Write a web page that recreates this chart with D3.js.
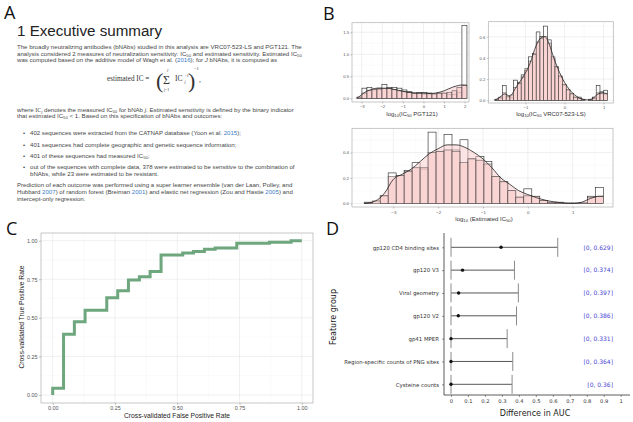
<!DOCTYPE html>
<head>
<meta charset="utf-8">
<style>
  body { margin: 0; background: #fff; }
  svg { font-family: "Liberation Sans", Arial, sans-serif; }
  .para { font-size: 6.1px; fill: #464646; }
  .plabel { font-family: "Open Sans", sans-serif; font-size: 18px; fill: #111; }
</style>
</head>
<body>
<svg width="633" height="422"></svg>
<script src="https://d3js.org/d3.v7.min.js"></script>
<script>
// ---------------- data ----------------
// B, left: log10(IC50 PGT121), 22 bins, density scale
const pgtBinStart = -3.23, pgtBinWidth = 0.2427;
const pgtObserved = [0.02, 0.23, 0.25, 0.19, 0.23, 0.31, 0.25, 0.25, 0.23, 0.19, 0.15,
                     0.12, 0.13, 0.13, 0.12, 0.10, 0.12, 0.11, 0.08, 0.09, 0.13, 1.65];
const pgtSmoothed = [0.03, 0.12, 0.17, 0.20, 0.21, 0.22, 0.22, 0.20, 0.17, 0.15, 0.13,
                     0.11, 0.11, 0.10, 0.10, 0.10, 0.11, 0.12, 0.13, 0.17, 0.24, 0.30];
const pgtDensX = [-3.23, -3.0, -2.8, -2.6, -2.4, -2.2, -2.0, -1.8, -1.6, -1.4, -1.2, -1.0, -0.8, -0.6,
                  -0.4, -0.2, 0, 0.2, 0.4, 0.6, 0.8, 1.0, 1.2, 1.4, 1.6, 1.8, 2.0, 2.11];
const pgtDensY = [0.0, 0.08, 0.15, 0.19, 0.22, 0.23, 0.23, 0.23, 0.22, 0.20, 0.18, 0.16, 0.14, 0.13,
                  0.12, 0.12, 0.12, 0.11, 0.11, 0.12, 0.14, 0.17, 0.21, 0.25, 0.28, 0.30, 0.30, 0.29];

// B, right: log10(IC50 VRC07-523-LS), 30 bins
const vrcBinStart = -1.78, vrcBinWidth = 0.096;
const vrcObserved = [0.01, 0.015, 0.14, 0.03, 0.025, 0.19, 0.17, 0.24, 0.28, 0.41, 0.44, 0.645, 0.60, 0.70, 0.57,
                     0.39, 0.31, 0.22, 0.14, 0.095, 0.063, 0.03, 0.03, 0.01, 0.0, 0.01, 0.03, 0.14, 0.08, 0.095];
const vrcSmoothed = [0.01, 0.03, 0.07, 0.04, 0.05, 0.12, 0.16, 0.22, 0.30, 0.37, 0.43, 0.55, 0.58, 0.60, 0.54,
                     0.41, 0.32, 0.23, 0.15, 0.10, 0.06, 0.03, 0.02, 0.01, 0.0, 0.01, 0.02, 0.07, 0.07, 0.06];
const vrcDensX = [-1.78, -1.65, -1.53, -1.4, -1.23, -1.06, -0.89, -0.72, -0.6, -0.5, -0.38, -0.3, -0.17,
                  0.0, 0.13, 0.3, 0.47, 0.6, 0.73, 0.86, 0.99, 1.1];
const vrcDensY = [0.0, 0.03, 0.06, 0.04, 0.13, 0.22, 0.34, 0.52, 0.59, 0.60, 0.52, 0.43, 0.30,
                  0.17, 0.10, 0.04, 0.01, 0.003, 0.02, 0.06, 0.07, 0.06];

// B, bottom: log10(estimated IC50), 30 bins
const estBinStart = -3.65, estBinWidth = 0.178;
const estObserved = [0.01, 0.0, 0.06, 0.24, 0.22, 0.26, 0.32, 0.27, 0.56, 0.41, 0.54, 0.42, 0.50, 0.35, 0.37,
                     0.33, 0.21, 0.17, 0.10, 0.05, 0.115, 0.057, 0.023, 0.01, 0.01, 0.003, 0.003, 0.005, 0.057, 0.127];
const estSmoothed = [0.01, 0.02, 0.06, 0.21, 0.22, 0.25, 0.28, 0.28, 0.40, 0.41, 0.42, 0.41, 0.32, 0.35, 0.34,
                     0.31, 0.21, 0.17, 0.10, 0.05, 0.06, 0.057, 0.023, 0.01, 0.01, 0.003, 0.003, 0.003, 0.05, 0.057];
const estDensX = [-3.65, -3.4, -3.2, -3.0, -2.8, -2.6, -2.4, -2.2, -2.0, -1.8, -1.6, -1.4, -1.2, -1.0,
                  -0.8, -0.6, -0.4, -0.2, 0, 0.2, 0.4, 0.6, 0.8, 1.0, 1.2, 1.4, 1.6, 1.69];
const estDensY = [0.0, 0.02, 0.08, 0.19, 0.23, 0.27, 0.33, 0.39, 0.43, 0.46, 0.46, 0.44, 0.40, 0.35,
                  0.28, 0.20, 0.15, 0.10, 0.07, 0.045, 0.025, 0.012, 0.004, 0.001, 0.01, 0.04, 0.057, 0.057];

// C: cross-validated ROC curve (step corners)
const rocFpr = [0, 0, 0.0435, 0.087, 0.130, 0.217, 0.261, 0.304, 0.348, 0.391, 0.435,
                0.522, 0.565, 0.609, 0.652, 0.739, 0.870, 0.957, 1.0];
const rocTpr = [0, 0.043, 0.393, 0.475, 0.55, 0.63, 0.675, 0.745, 0.767, 0.80, 0.907,
                0.92, 0.93, 0.944, 0.953, 0.983, 0.99, 1.0, 1.0];

// D: variable importance, difference in AUC
const featureGroups = ["gp120 CD4 binding sites", "gp120 V3", "Viral geometry", "gp120 V2",
                       "gp41 MPER", "Region-specific counts of PNG sites", "Cysteine counts"];
const aucEstimate = [0.295, 0.068, 0.045, 0.043, 0, 0, 0];
const aucLower = [0, 0, 0, 0, 0, 0, 0];
const aucUpper = [0.629, 0.374, 0.397, 0.386, 0.331, 0.364, 0.36];

// A: report text
const introLines = [
  [["The broadly neutralizing antibodies (bNAbs) studied in this analysis are VRC07-523-LS and PGT121. The"]],
  [["analysis considered 2 measures of neutralization sensitivity: IC"], ["50", "sub"], [" and estimated sensitivity. Estimated IC"], ["50", "sub"]],
  [["was computed based on the additive model of Wagh et al. ("], ["2016", "cite"], ["); for "], ["J", "it"], [" bNAbs, it is computed as"]]
];
const whereLines = [
  [["where "], ["IC", "serif"], ["j", "subit"], [" denotes the measured IC"], ["50", "sub"], [" for bNAb "], ["j", "it"], [". Estimated sensitivity is defined by the binary indicator"]],
  [["that estimated IC"], ["50", "sub"], [" < 1. Based on this specification of bNAbs and outcomes:"]]
];
const bulletLines = [
  [["402 sequences were extracted from the CATNAP database (Yoon et al. "], ["2015", "cite"], [");"]],
  [["401 sequences had complete geographic and genetic sequence information;"]],
  [["401 of these sequences had measured IC"], ["50", "sub"], [";"]],
  [["out of the sequences with complete data, 378 were estimated to be sensitive to the combination of"]],
  [["bNAbs, while 23 were estimated to be resistant."]]
];
const closingLines = [
  [["Prediction of each outcome was performed using a super learner ensemble (van der Laan, Polley, and"]],
  [["Hubbard "], ["2007", "cite"], [") of random forest (Breiman "], ["2001", "cite"], [") and elastic net regression (Zou and Hastie "], ["2005", "cite"], [") and"]],
  [["intercept-only regression."]]
];

// ---------------- drawing ----------------
var svg = d3.select("svg");
svg.append("rect").attr("width", 633).attr("height", 422).attr("fill", "#fff");

function writeLine(g, parts, x, y) {
  var t = g.append("text").attr("class", "para").attr("x", x).attr("y", y);
  var shift = 0;
  parts.forEach(function(p) {
    var kind = p[1] || "";
    var s = t.append("tspan").text(p[0]);
    var isSub = kind === "sub" || kind === "subit";
    var target = isSub ? 1.3 : 0;
    if (target !== shift) { s.attr("dy", target - shift); shift = target; }
    if (isSub) s.attr("font-size", "4.3px");
    if (kind === "cite") s.attr("fill", "#3d7ec6");
    if (kind === "it" || kind === "subit") s.attr("font-style", "italic");
    if (kind === "serif") s.attr("font-family", "Liberation Serif");
  });
}

// ---- panel A ----
var gA = svg.append("g");
gA.append("text").attr("class", "plabel").attr("x", 4).attr("y", 18.5).text("A");
gA.append("text").attr("x", 17).attr("y", 35.5).attr("font-size", 15.5).attr("fill", "#222")
  .attr("textLength", 145).attr("lengthAdjust", "spacingAndGlyphs").text("1 Executive summary");

[49, 55.5, 62].forEach(function(y, i) { writeLine(gA, introLines[i], 17, y); });

// formula
var f = gA.append("g").attr("font-family", "'Liberation Serif', serif").attr("fill", "#333");
f.append("text").attr("x", 107).attr("y", 81).attr("font-size", 7.2).text("estimated IC =");
f.append("text").attr("x", 156).attr("y", 87.5).attr("font-size", 22).text("(");
f.append("text").attr("x", 163).attr("y", 84).attr("font-size", 12).text("\u03a3");
f.append("text").attr("x", 166.5).attr("y", 71.5).attr("font-size", 4).attr("font-style", "italic").text("J");
f.append("text").attr("x", 164).attr("y", 90.5).attr("font-size", 4).text("j=1");
f.append("text").attr("x", 175).attr("y", 81).attr("font-size", 7.5).text("IC");
f.append("text").attr("x", 184.5).attr("y", 83).attr("font-size", 4).attr("font-style", "italic").text("j");
f.append("text").attr("x", 184.5).attr("y", 76.5).attr("font-size", 4).text("\u22121");
f.append("text").attr("x", 188).attr("y", 87.5).attr("font-size", 22).text(")");
f.append("text").attr("x", 194).attr("y", 70).attr("font-size", 4.5).text("\u22121");
f.append("text").attr("x", 199).attr("y", 82).attr("font-size", 7.5).text(",");

[111.5, 118].forEach(function(y, i) { writeLine(gA, whereLines[i], 17, y); });

var bulletRows = [[135, true], [146.5, true], [157.5, true], [169, true], [175.5, false]];
bulletLines.forEach(function(l, i) {
  if (bulletRows[i][1]) gA.append("text").attr("class", "para").attr("x", 23).attr("y", bulletRows[i][0]).text("\u2022");
  writeLine(gA, l, 30, bulletRows[i][0]);
});

[187, 193.5, 201].forEach(function(y, i) { writeLine(gA, closingLines[i], 17, y); });

// ---- ggplot-like helpers ----
function ggGrid(g, x, y, xMajor, xMinor, yMajor, yMinor) {
  var xr = x.range(), yr = y.range();
  g.append("rect").attr("x", xr[0]).attr("y", yr[1]).attr("width", xr[1] - xr[0])
    .attr("height", yr[0] - yr[1]).attr("fill", "#fff");
  g.selectAll(null).data(xMinor).join("line")
    .attr("x1", d => x(d)).attr("x2", d => x(d)).attr("y1", yr[0]).attr("y2", yr[1])
    .attr("stroke", "#f3f3f3").attr("stroke-width", 0.4);
  g.selectAll(null).data(yMinor).join("line")
    .attr("y1", d => y(d)).attr("y2", d => y(d)).attr("x1", xr[0]).attr("x2", xr[1])
    .attr("stroke", "#f3f3f3").attr("stroke-width", 0.4);
  g.selectAll(null).data(xMajor).join("line")
    .attr("x1", d => x(d)).attr("x2", d => x(d)).attr("y1", yr[0]).attr("y2", yr[1])
    .attr("stroke", "#e6e6e6").attr("stroke-width", 0.6);
  g.selectAll(null).data(yMajor).join("line")
    .attr("y1", d => y(d)).attr("y2", d => y(d)).attr("x1", xr[0]).attr("x2", xr[1])
    .attr("stroke", "#e6e6e6").attr("stroke-width", 0.6);
}
function ggBorder(g, x, y) {
  var xr = x.range(), yr = y.range();
  g.append("rect").attr("x", xr[0]).attr("y", yr[1]).attr("width", xr[1] - xr[0])
    .attr("height", yr[0] - yr[1]).attr("fill", "none").attr("stroke", "#b0b0b0").attr("stroke-width", 0.7);
}
function ggAxis(sel, size) {
  sel.attr("font-size", size).attr("font-family", "'Liberation Sans', Arial, sans-serif");
  sel.select(".domain").remove();
  sel.selectAll(".tick line").attr("stroke", "#888").attr("stroke-width", 0.5);
  sel.selectAll(".tick text").attr("fill", "#555");
}
function subTitle(g, cx, cy, parts, size) {
  var t = g.append("text").attr("x", cx).attr("y", cy).attr("text-anchor", "middle")
    .attr("font-size", size).attr("fill", "#333");
  var shift = 0;
  parts.forEach(function(p) {
    var s = t.append("tspan").text(p[0]);
    var target = p[1] ? 1.4 : 0;
    if (target !== shift) { s.attr("dy", target - shift); shift = target; }
    if (p[1]) s.attr("font-size", size * 0.7);
  });
}

function drawHist(cfg) {
  var g = svg.append("g");
  var x = d3.scaleLinear().domain(cfg.xDomain).range(cfg.xRange);
  var y = d3.scaleLinear().domain(cfg.yDomain).range(cfg.yRange);
  ggGrid(g, x, y, cfg.xMajor, cfg.xMinor, cfg.yMajor, cfg.yMinor);
  var bw = x(cfg.width) - x(0);
  g.selectAll(null).data(cfg.observed).join("rect")
    .attr("x", (d, i) => x(cfg.start + i * cfg.width)).attr("width", bw)
    .attr("y", d => y(d)).attr("height", d => y(0) - y(d))
    .attr("fill", "#fff").attr("stroke", "#222").attr("stroke-width", 0.6);
  var pts = d3.zip(cfg.densX, cfg.densY);
  g.append("path").datum(pts)
    .attr("d", d3.area().x(d => x(d[0])).y0(y(0)).y1(d => y(d[1])).curve(d3.curveMonotoneX))
    .attr("fill", "#f9c9c9").attr("fill-opacity", 0.5);
  g.selectAll(null).data(cfg.smoothed).join("rect")
    .attr("x", (d, i) => x(cfg.start + i * cfg.width)).attr("width", bw)
    .attr("y", d => y(d)).attr("height", d => y(0) - y(d))
    .attr("fill", "#f7c4c4").attr("fill-opacity", 0.55).attr("stroke", "#444").attr("stroke-width", 0.5);
  g.append("path").datum(pts)
    .attr("d", d3.line().x(d => x(d[0])).y(d => y(d[1])).curve(d3.curveMonotoneX))
    .attr("fill", "none").attr("stroke", "#222").attr("stroke-width", 0.8);
  ggBorder(g, x, y);
  g.append("g").attr("transform", "translate(0," + cfg.yRange[0] + ")")
    .call(d3.axisBottom(x).tickValues(cfg.xMajor).tickSize(1.5).tickPadding(cfg.xPad).tickFormat(d3.format("d")))
    .call(s => ggAxis(s, cfg.tickFont));
  g.append("g").attr("transform", "translate(" + cfg.xRange[0] + ",0)")
    .call(d3.axisLeft(y).tickValues(cfg.yMajor).tickSize(1.5).tickPadding(1.5).tickFormat(d3.format(".1f")))
    .call(s => ggAxis(s, cfg.tickFont));
  subTitle(g, cfg.titleX, cfg.titleY, cfg.title, 6);
}

// ---- panel B ----
svg.append("text").attr("class", "plabel").attr("x", 323).attr("y", 19.5).text("B");

drawHist({
  xDomain: [-3.47, 2.21], xRange: [352, 469], yDomain: [-0.084, 1.718], yRange: [102, 22.7],
  xMajor: [-3, -2, -1, 0, 1, 2], xMinor: [-2.5, -1.5, -0.5, 0.5, 1.5],
  yMajor: [0, 0.5, 1, 1.5], yMinor: [0.25, 0.75, 1.25],
  start: pgtBinStart, width: pgtBinWidth, observed: pgtObserved, smoothed: pgtSmoothed,
  densX: pgtDensX, densY: pgtDensY, tickFont: 4.2, xPad: 1.2,
  title: [["log"], ["10", 1], ["(IC"], ["50", 1], [" PGT121)"]], titleX: 412, titleY: 115.5
});
drawHist({
  xDomain: [-1.949, 1.249], xRange: [488.3, 613.3], yDomain: [-0.0255, 0.7415], yRange: [103, 21.7],
  xMajor: [-1, 0, 1], xMinor: [-1.5, -0.5, 0.5],
  yMajor: [0, 0.2, 0.4, 0.6], yMinor: [0.1, 0.3, 0.5, 0.7],
  start: vrcBinStart, width: vrcBinWidth, observed: vrcObserved, smoothed: vrcSmoothed,
  densX: vrcDensX, densY: vrcDensY, tickFont: 4.2, xPad: 1.2,
  title: [["log"], ["10", 1], ["(IC"], ["50", 1], [" VRC07-523-LS)"]], titleX: 551, titleY: 116
});
drawHist({
  xDomain: [-3.923, 1.9], xRange: [352, 613], yDomain: [-0.0275, 0.59], yRange: [207, 128.3],
  xMajor: [-3, -2, -1, 0, 1], xMinor: [-3.5, -2.5, -1.5, -0.5, 0.5, 1.5],
  yMajor: [0, 0.2, 0.4], yMinor: [0.1, 0.3, 0.5],
  start: estBinStart, width: estBinWidth, observed: estObserved, smoothed: estSmoothed,
  densX: estDensX, densY: estDensY, tickFont: 4.4, xPad: 2,
  title: [["log"], ["10", 1], [" (Estimated IC"], ["50", 1], [")"]], titleX: 484, titleY: 221
});

// ---- panel C ----
var gC = svg.append("g");
gC.append("text").attr("class", "plabel").attr("x", 6).attr("y", 235).text("C");
var xC = d3.scaleLinear().domain([-0.047, 1.045]).range([41, 313]);
var yC = d3.scaleLinear().domain([-0.052, 1.05]).range([403, 233]);
ggGrid(gC, xC, yC, [0, 0.25, 0.5, 0.75, 1], [0.125, 0.375, 0.625, 0.875],
       [0, 0.25, 0.5, 0.75, 1], [0.125, 0.375, 0.625, 0.875]);
gC.append("path").datum(d3.zip(rocFpr, rocTpr))
  .attr("d", d3.line().x(d => xC(d[0])).y(d => yC(d[1])).curve(d3.curveStepAfter))
  .attr("fill", "none").attr("stroke", "#6ea67e").attr("stroke-width", 3);
ggBorder(gC, xC, yC);
gC.append("g").attr("transform", "translate(0,403)")
  .call(d3.axisBottom(xC).tickValues([0, 0.25, 0.5, 0.75, 1]).tickSize(2).tickPadding(1.5).tickFormat(d3.format(".2f")))
  .call(s => ggAxis(s, 5.4));
gC.append("g").attr("transform", "translate(41,0)")
  .call(d3.axisLeft(yC).tickValues([0, 0.25, 0.5, 0.75, 1]).tickSize(2).tickPadding(1.5).tickFormat(d3.format(".2f")))
  .call(s => ggAxis(s, 5.4));
gC.append("text").attr("x", 177).attr("y", 418).attr("text-anchor", "middle")
  .attr("font-size", 6.7).attr("fill", "#222").text("Cross-validated False Positive Rate");
gC.append("text").attr("transform", "translate(24,317) rotate(-90)").attr("text-anchor", "middle")
  .attr("font-size", 6.7).attr("fill", "#222").text("Cross-validated True Positive Rate");

// ---- panel D ----
svg.append("text").attr("class", "plabel").attr("x", 326).attr("y", 235).text("D");
var gD = svg.append("g").attr("font-family", "'DejaVu Sans', sans-serif");
var xD = d3.scaleLinear().domain([0, 1]).range([451, 620.7]);
var yD = d3.scalePoint().domain(featureGroups).range([247.3, 384.3]);

var rows = featureGroups.map((g, i) => ({ g: g, est: aucEstimate[i], lo: aucLower[i], hi: aucUpper[i] }));
var row = gD.selectAll(null).data(rows).join("g");
row.append("line").attr("x1", d => xD(d.lo)).attr("x2", d => xD(d.hi))
  .attr("y1", d => yD(d.g)).attr("y2", d => yD(d.g)).attr("stroke", "#444").attr("stroke-width", 0.9);
row.append("line").attr("x1", d => xD(d.lo)).attr("x2", d => xD(d.lo))
  .attr("y1", d => yD(d.g) - 9.5).attr("y2", d => yD(d.g) + 9.5).attr("stroke", "#8a8a8a").attr("stroke-width", 1);
row.append("line").attr("x1", d => xD(d.hi)).attr("x2", d => xD(d.hi))
  .attr("y1", d => yD(d.g) - 9.5).attr("y2", d => yD(d.g) + 9.5).attr("stroke", "#8a8a8a").attr("stroke-width", 1);
row.append("circle").attr("cx", d => xD(d.est)).attr("cy", d => yD(d.g)).attr("r", 1.7).attr("fill", "#111");
row.append("text").attr("x", 613).attr("y", d => yD(d.g) + 2.2).attr("text-anchor", "end")
  .attr("font-size", 6).attr("fill", "#4646d2").text(d => "[" + d.lo + ", " + d.hi + "]");

gD.append("line").attr("x1", 444).attr("x2", 444).attr("y1", 233).attr("y2", 395).attr("stroke", "#333").attr("stroke-width", 0.8);
gD.append("line").attr("x1", 444).attr("x2", 630).attr("y1", 395).attr("y2", 395).attr("stroke", "#333").attr("stroke-width", 0.8);
gD.append("g").attr("transform", "translate(0,395)")
  .call(d3.axisBottom(xD).ticks(10).tickSize(2).tickPadding(2).tickFormat(d => String(+d.toFixed(1))))
  .call(s => { s.attr("font-size", 5.2).attr("font-family", "'DejaVu Sans', sans-serif"); s.select(".domain").remove();
    s.selectAll(".tick line").attr("stroke", "#333").attr("stroke-width", 0.5); s.selectAll(".tick text").attr("fill", "#333"); });
gD.append("g").attr("transform", "translate(444,0)")
  .call(d3.axisLeft(yD).tickSize(2).tickPadding(3))
  .call(s => { s.attr("font-size", 5.4).attr("font-family", "'DejaVu Sans', sans-serif"); s.select(".domain").remove();
    s.selectAll(".tick line").attr("stroke", "#333").attr("stroke-width", 0.5); s.selectAll(".tick text").attr("fill", "#333"); });
gD.append("text").attr("x", 535).attr("y", 416).attr("text-anchor", "middle")
  .attr("font-size", 8).attr("fill", "#222").text("Difference in AUC");
gD.append("text").attr("transform", "translate(336,317) rotate(-90)").attr("text-anchor", "middle")
  .attr("font-size", 8).attr("fill", "#222").text("Feature group");
</script>
</body>
